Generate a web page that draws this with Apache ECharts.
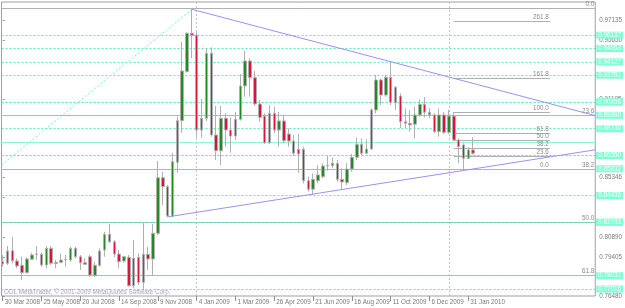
<!DOCTYPE html>
<html><head><meta charset="utf-8">
<script src="https://cdn.jsdelivr.net/npm/echarts@6/dist/echarts.min.js"></script>
<style>html,body{margin:0;padding:0;background:#fff}#c{width:625px;height:308px}</style>
</head><body><div id="c"></div>
<script>
// Weekly bars, index 0 = week of 30 Mar 2008
const opens = [.7905,.7893,.7987,.7910,.7878,.7822,.7923,.7962,.7960,.7880,
.8005,.7900,.7900,.7920,.7917,.8005,.7942,.7897,.7942,.7800,
.7878,.7992,.8110,.8054,.7962,.7910,.7938,.7725,.7938,.7750,
.7960,.7925,.8117,.8533,.8466,.8247,.8649,.8960,.9327,.9614,
.9601,.8890,.8978,.9464,.8853,.8735,.8978,.8890,.8845,.8970,
.9220,.9407,.9282,.9085,.8995,.8795,.9015,.8890,.8958,.8860,
.8808,.8746,.8746,.8511,.8447,.8511,.8541,.8621,.8623,.8641,
.8521,.8496,.8598,.8686,.8783,.8716,.8748,.9040,.9265,.9152,
.9285,.9095,.9145,.8952,.8940,.8933,.9003,.9083,.9023,.9003,
.8878,.9003,.8873,.8995,.8816,.8778,.8678,.8741];
const highs = [.7955,.8022,.8092,.7930,.7942,.7938,.7972,.8022,.7972,.8022,
.8022,.7917,.7968,.7955,.8017,.8017,.7955,.7930,.7955,.7905,
.8005,.8129,.8187,.8067,.7992,.7947,.7955,.8067,.7968,.8197,
.8017,.8187,.8658,.8578,.8479,.8720,.8990,.9551,.9622,.9794,
.9626,.9122,.9502,.9509,.9070,.9070,.9015,.8985,.9027,.9309,
.9482,.9427,.9332,.9115,.9015,.9077,.9065,.9027,.9003,.8903,
.8853,.8860,.8765,.8541,.8566,.8628,.8641,.8696,.8686,.8666,
.8604,.8641,.8711,.8836,.8828,.8821,.9053,.9302,.9277,.9302,
.9401,.9220,.9165,.9052,.9040,.9065,.9120,.9137,.9052,.9015,
.9052,.9025,.9040,.9025,.8828,.8790,.8763,.8836];
const lows = [.7867,.7880,.7893,.7855,.7768,.7818,.7917,.7917,.7867,.7855,
.7880,.7855,.7893,.7867,.7905,.7930,.7843,.7880,.7792,.7792,
.7867,.7942,.8042,.7938,.7855,.7897,.7718,.7706,.7730,.7693,
.7843,.7805,.8104,.8329,.8237,.8237,.8571,.8870,.9322,.9427,
.8833,.8833,.8958,.8840,.8666,.8628,.8765,.8720,.8815,.8960,
.9140,.9140,.9070,.8952,.8785,.8785,.8866,.8765,.8791,.8765,
.8696,.8571,.8491,.8429,.8404,.8491,.8529,.8586,.8604,.8503,
.8447,.8479,.8578,.8666,.8703,.8716,.8741,.9015,.9077,.9140,
.9077,.9040,.8903,.8903,.8878,.8828,.8988,.8985,.8978,.8866,
.8840,.8860,.8860,.8808,.8643,.8596,.8673,.8704];
const closes = [.7887,.7985,.7912,.7873,.7822,.7925,.7955,.7960,.7880,.8005,
.7893,.7890,.7917,.7923,.8005,.7942,.7897,.7885,.7805,.7878,
.7985,.8110,.8054,.7962,.7905,.7942,.7725,.7930,.7750,.7960,
.7925,.8117,.8533,.8466,.8247,.8653,.8960,.9332,.9614,.9599,
.8890,.8978,.9464,.8853,.8735,.8978,.8890,.8845,.8970,.9220,
.9407,.9282,.9085,.8985,.8795,.9015,.8890,.8958,.8810,.8808,
.8716,.8711,.8511,.8447,.8521,.8554,.8621,.8625,.8641,.8521,
.8501,.8598,.8686,.8783,.8716,.8748,.9040,.9265,.9152,.9285,
.9098,.9210,.8952,.8940,.8928,.9003,.9083,.9023,.9003,.8878,
.9003,.8873,.8995,.8816,.8766,.8678,.8741,.8716];

const tickIndex = [0,8,16,24,32,40,48,56,64,72,80,88,96];
const tickLabels = ['30 Mar 2008','25 May 2008','20 Jul 2008','14 Sep 2008','9 Nov 2008','4 Jan 2009',
  '1 Mar 2009','26 Apr 2009','21 Jun 2009','16 Aug 2009','11 Oct 2009','6 Dec 2009','31 Jan 2010'];
const priceTicks = [0.97135,0.95650,0.91195,0.85346,0.83860,0.80890,0.79405,0.76480];

// aquamarine dashed levels with price boxes
const levelPrices = [0.96137,0.94953,0.94127,0.92751,0.91483,0.90856,0.89890,0.88730,
  0.87290,0.86550,0.85832,0.84436,0.82446,0.81933,0.78031,0.77016];
const solidLevels = [0.88405,0.88255];
const solidLabel = 0.88330;

const bigFibNames = ['0.0','23.6','38.2','50.0','61.8'];
const bigFibPrices = [0.97936,0.90325,0.85535,0.81718,0.77924];
const smallFibNames = ['261.8','161.8','100.0','61.8','50.0','38.2','23.6','0.0'];
const smallFibPrices = [0.9707,0.9274,0.9025,0.8866,0.8810,0.8755,0.8695,0.8596];
const smallFibRange = [93, 112.8];

const upperTrend = [[39,0.97936],[122.16,0.89981]];
const lowerTrend = [[34.1,0.82407],[122.16,0.87421]];
const diagTrend = [[-0.245,0.86283],[39,0.97936]];
const vLines = [40, 92];

const FONT = '"Liberation Sans",Arial,sans-serif';
const FS = 6.3;
const X_MIN = -0.245, X_MAX = 122.16, Y_MIN = 0.7648, Y_MAX = 0.98483;

const candleData = opens.map((o,i)=>[i,o,closes[i],lows[i],highs[i]]);

const chart = echarts.init(document.getElementById('c'), null, {renderer:'canvas'});
chart.setOption({
  animation:false,
  backgroundColor:'#fff',
  grid:{left:1.5, right:23, top:2, bottom:12, show:true, borderColor:'#a0a0a0', borderWidth:1, backgroundColor:'transparent'},
  xAxis:{type:'value', min:X_MIN, max:X_MAX, splitLine:{show:false}, axisLine:{show:false},
    axisTick:{show:true, customValues:tickIndex, length:5, lineStyle:{color:'#909090'}},
    axisLabel:{customValues:tickIndex, formatter:(v)=>tickLabels[tickIndex.indexOf(v)], align:'left',
      showMinLabel:true, showMaxLabel:true, hideOverlap:false,
      margin:3, padding:[0,0,0,2], color:'#7a7a7a', fontSize:FS, fontFamily:FONT}},
  yAxis:{type:'value', position:'right', min:Y_MIN, max:Y_MAX, splitLine:{show:false}, axisLine:{show:false},
    axisTick:{show:true, customValues:priceTicks, length:2, lineStyle:{color:'#909090'}},
    axisLabel:{customValues:priceTicks, formatter:(v)=>v.toFixed(5), margin:4, color:'#7a7a7a', fontSize:FS, fontFamily:FONT,
      showMinLabel:true, showMaxLabel:true}},
  graphic:[{type:'text', left:4, top:289, z:10, style:{text:'ODL MetaTrader, © 2001-2009 MetaQuotes Software Corp.',
    fill:'#a4a4b8', font:FS+'px '+FONT}}],
  series:[
    {type:'line', data:diagTrend, symbol:'none', silent:true, z:1,
      lineStyle:{color:'#6ff2cc', width:1, type:[2,2]},
      markLine:{silent:true, z:1, symbol:['none','none'], animation:false,
        lineStyle:{color:'#c4c4c4', width:1, type:[2,2]}, label:{show:false},
        data:vLines.map(v=>({xAxis:v}))}},
    {type:'line', data:upperTrend, symbol:'none', silent:true, z:3,
      lineStyle:{color:'#9d8ff0', width:1},
      markLine:{silent:true, z:1, symbol:['none','none'], animation:false,
        lineStyle:{color:'#b0b0b0', width:1, type:'solid'},
        label:{show:true, position:'insideEndTop', distance:1, color:'#8a8a8a', fontSize:FS, fontFamily:FONT},
        data:bigFibPrices.map((p,i)=>({yAxis:p, label:{formatter:bigFibNames[i]}}))}},
    {type:'line', data:lowerTrend, symbol:'none', silent:true, z:3,
      lineStyle:{color:'#9d8ff0', width:1},
      markLine:{silent:true, z:1, symbol:['none','none'], animation:false,
        lineStyle:{color:'#b0b0b0', width:1, type:'solid'},
        label:{show:true, position:'insideEndTop', distance:1, color:'#8a8a8a', fontSize:FS, fontFamily:FONT},
        data:smallFibPrices.map((p,i)=>[{coord:[smallFibRange[0],p]},{coord:[smallFibRange[1],p], label:{formatter:smallFibNames[i]}}])}},
    {type:'candlestick', data:candleData, barWidth:3, z:2,
      itemStyle:{color:'#228b22', color0:'#dc143c', borderColor:'#b0b0b0', borderColor0:'#b0b0b0', borderWidth:1},
      markLine:{silent:true, z:1, symbol:['none','none'], animation:false,
        lineStyle:{color:'#5ee8c2', width:1, type:[2,2]},
        label:{show:true, position:'end', distance:1, color:'#ffffff', backgroundColor:'#7fffd4',
          padding:[1,2,0,2], fontSize:FS, fontFamily:FONT},
        data:levelPrices.map(p=>({yAxis:p, label:{formatter:p.toFixed(5)}}))
          .concat(solidLevels.map(p=>({yAxis:p, lineStyle:{type:'solid', color:'#8ff5d8'}, label:{show:false}})))
          .concat([{yAxis:solidLabel, lineStyle:{opacity:0}, label:{formatter:solidLabel.toFixed(5)}}])}}
  ]
});
</script></body></html>
